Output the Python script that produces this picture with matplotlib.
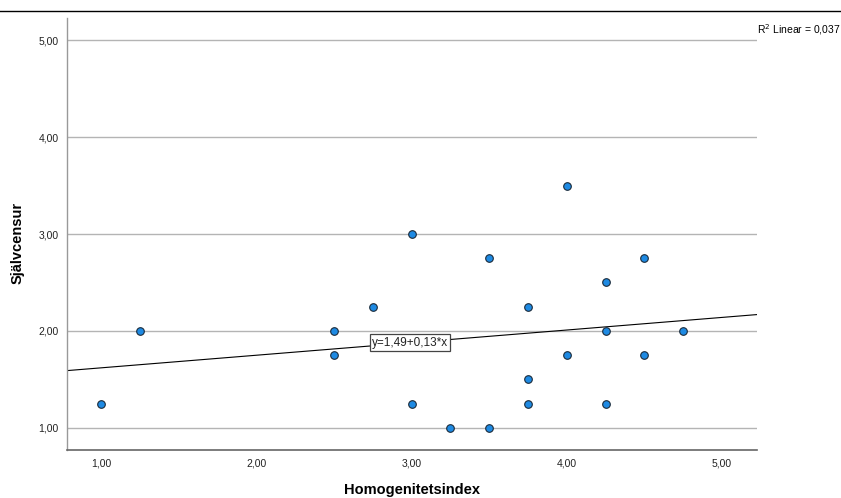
import numpy as np
import matplotlib.pyplot as plt
from matplotlib.lines import Line2D

# Data
homogenitet = [1.00, 1.25, 2.50, 2.50, 2.75, 3.00, 3.00, 3.25, 3.50, 3.50,
               3.75, 3.75, 3.75, 4.00, 4.00, 4.25, 4.25, 4.25, 4.50, 4.50, 4.75]
sjalvcensur = [1.25, 2.00, 2.00, 1.75, 2.25, 3.00, 1.25, 1.00, 2.75, 1.00,
               2.25, 1.50, 1.25, 3.50, 1.75, 2.50, 2.00, 1.25, 2.75, 1.75, 2.00]
intercept = 1.49
slope = 0.13
r2 = 0.037
ticks = [1, 2, 3, 4, 5]
tick_labels = ['1,00', '2,00', '3,00', '4,00', '5,00']

plt.rcParams['font.family'] = ['Liberation Sans', 'DejaVu Sans']

fig = plt.figure(figsize=(8.41, 4.98), dpi=100)
ax = fig.add_axes([67/841, 1 - 450/498, (757 - 67)/841, (450 - 18)/498])

xlim = (0.781, 5.225)
ylim = (0.773, 5.227)
ax.set_xlim(xlim)
ax.set_ylim(ylim)

# horizontal grid lines
for t in ticks:
    ax.axhline(t, color='#b4b4b4', lw=1.0, zorder=1)

# fit line
xs = np.array(xlim)
ax.plot(xs, intercept + slope * xs, color='black', lw=0.8, zorder=2)

ax.scatter(homogenitet, sjalvcensur, s=30, color='#1e8ae3', edgecolors='#1a2a3a',
           linewidths=0.8, zorder=3)

# equation label on the line
xl = 2.99
ax.text(xl, intercept + slope * xl, 'y=1,49+0,13*x', ha='center', va='center',
        fontsize=8.5, color='#222222', zorder=4,
        bbox=dict(boxstyle='square,pad=0.2', facecolor='white', edgecolor='#444444', lw=0.9))

ax.set_xticks(ticks)
ax.set_xticklabels(tick_labels)
ax.set_yticks(ticks)
ax.set_yticklabels(tick_labels)
ax.tick_params(length=0, labelsize=7.5, colors='#222222', pad=6)
ax.tick_params(axis='y', pad=6)

for s in ['top', 'right']:
    ax.spines[s].set_visible(False)
ax.spines['left'].set_color('#999999')
ax.spines['bottom'].set_color('#666666')
ax.spines['left'].set_linewidth(1.0)
ax.spines['bottom'].set_linewidth(1.2)

ax.set_xlabel('Homogenitetsindex', fontsize=10.5, fontweight='bold')
ax.set_ylabel('Självcensur', fontsize=10.5, fontweight='bold')
ax.xaxis.set_label_coords(0.5, (450 - 490) / 432)
ax.yaxis.set_label_coords((18 - 67) / 690, 0.48)
ax.xaxis.label.set_va('center')
ax.yaxis.label.set_va('center')

fig.text(757/841, 1 - 30/498, 'R$^2$ Linear = 0,037', fontsize=7.5, ha='left', va='center')

# top border line
fig.add_artist(Line2D([0, 1], [1 - 11/498, 1 - 11/498], color='black', lw=1.0,
                      transform=fig.transFigure))

fig.savefig('out.png', dpi=100)
